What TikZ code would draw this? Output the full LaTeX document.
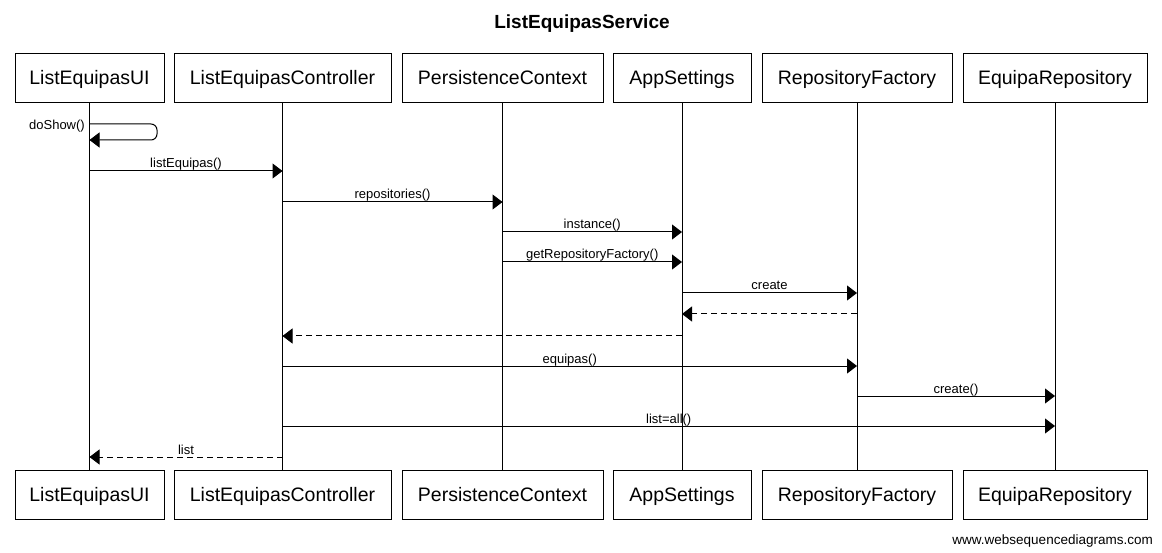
\documentclass[tikz,border=0pt]{standalone}
\usepackage{fontspec}
\setmainfont{Liberation Sans}
\usetikzlibrary{arrows.meta}
\begin{document}
\begin{tikzpicture}[x=1pt,y=-1pt,
 actor/.style={draw,line width=1pt,minimum height=49pt,inner sep=0pt,text height=14pt,text depth=1pt,font=\fontsize{19.5}{21}\selectfont},
 life/.style={line width=1pt},
 msg/.style={line width=1pt,-{Triangle[length=10pt,width=15pt]}},
 ret/.style={msg,dash pattern=on 6pt off 4pt},
 lbl/.style={font=\fontsize{13}{14}\selectfont,inner sep=0pt,anchor=base,yshift=3pt}]
\useasboundingbox[fill=white] (0,0) rectangle (1162,553);
\node[font=\bfseries\fontsize{19}{21}\selectfont] (title) at (582,24) {ListEquipasService};
% top participants
\node[actor,minimum width=149pt] (uiT) at (89.5,78.5) {ListEquipasUI};
\node[actor,minimum width=217pt] (ctT) at (282.5,78.5) {ListEquipasController};
\node[actor,minimum width=201pt] (pcT) at (502.5,78.5) {PersistenceContext};
\node[actor,minimum width=138pt] (asT) at (682,78.5) {AppSettings};
\node[actor,minimum width=190pt] (rfT) at (857,78.5) {RepositoryFactory};
\node[actor,minimum width=184pt] (erT) at (1055,78.5) {EquipaRepository};
% bottom participants
\node[actor,minimum width=149pt] (uiB) at (89.5,494.5) {ListEquipasUI};
\node[actor,minimum width=217pt] (ctB) at (282.5,494.5) {ListEquipasController};
\node[actor,minimum width=201pt] (pcB) at (502.5,494.5) {PersistenceContext};
\node[actor,minimum width=138pt] (asB) at (682,494.5) {AppSettings};
\node[actor,minimum width=190pt] (rfB) at (857,494.5) {RepositoryFactory};
\node[actor,minimum width=184pt] (erB) at (1055,494.5) {EquipaRepository};
% lifelines
\draw[life] (uiT) -- (uiB);
\draw[life] (ctT) -- (ctB);
\draw[life] (pcT) -- (pcB);
\draw[life] (asT) -- (asB);
\draw[life] (rfT) -- (rfB);
\draw[life] (erT) -- (erB);
% messages
\draw[msg,rounded corners=6pt] (uiT |- 0,124) -- (157,124) -- (157,140) -- (uiT |- 0,140);
\node[font=\fontsize{13}{14}\selectfont,inner sep=0pt,anchor=base east] (doshow) at (85,130) {doShow()};
\draw[msg] (uiT |- 0,171) -- node[lbl]{listEquipas()} (ctT |- 0,171);
\draw[msg] (ctT |- 0,202) -- node[lbl]{repositories()} (pcT |- 0,202);
\draw[msg] (pcT |- 0,232) -- node[lbl]{instance()} (asT |- 0,232);
\draw[msg] (pcT |- 0,262) -- node[lbl]{getRepositoryFactory()} (asT |- 0,262);
\draw[msg] (asT |- 0,293) -- node[lbl]{create} (rfT |- 0,293);
\draw[ret] (rfT |- 0,314) -- (asT |- 0,314);
\draw[ret] (asT |- 0,336) -- (ctT |- 0,336);
\draw[msg] (ctT |- 0,366) -- node[lbl]{equipas()} (rfT |- 0,366);
\draw[msg] (rfT |- 0,396) -- node[lbl]{create()} (erT |- 0,396);
\draw[msg] (ctT |- 0,426) -- node[lbl]{list=all()} (erT |- 0,426);
\draw[ret] (ctT |- 0,457) -- node[lbl]{list} (uiT |- 0,457);
\node[font=\fontsize{13.5}{15}\selectfont,inner sep=0pt,anchor=base east] (footer) at (1153,544) {www.websequencediagrams.com};
\end{tikzpicture}
\end{document}
